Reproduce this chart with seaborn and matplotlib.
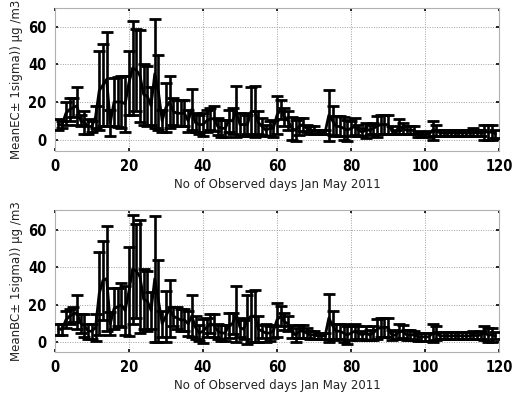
import numpy as np
import pandas as pd
import matplotlib
matplotlib.use("Agg")
import matplotlib.pyplot as plt
import seaborn as sns

days = list(range(1, 120))

ec_mean = [8, 8, 14, 16, 17, 18, 10, 9, 7, 7,
           12, 26, 29, 32, 9, 20, 20, 20, 19, 30,
           38, 37, 34, 24, 23, 18, 35, 25, 10, 17,
           20, 15, 14, 14, 14, 10, 16, 9, 8, 8,
           10, 11, 11, 7, 6, 6, 10, 10, 15, 8,
           8, 8, 15, 15, 9, 7, 5, 6, 6, 13,
           16, 12, 10, 6, 5, 7, 8, 6, 5, 5,
           4, 4, 4, 13, 10, 7, 7, 6, 5, 6,
           7, 5, 4, 5, 5, 6, 7, 8, 8, 8,
           5, 4, 7, 6, 5, 5, 5, 3, 2.5, 3,
           3, 5, 5, 3.5, 3.5, 3.5, 3.5, 3.5, 3.5, 3.5,
           3.5, 3.5, 4, 3.5, 3.5, 4, 4, 4, 3]
ec_sigma = [3, 2, 6, 6, 5, 10, 3, 6, 4, 3,
            6, 21, 22, 25, 7, 13, 13.5, 14, 15, 17,
            25, 22, 24.5, 16, 16, 10, 29, 20, 6, 13,
            14, 7, 7, 7, 7, 6, 11, 5, 5, 6,
            6, 6, 6.6, 4.5, 4.5, 4.5, 6, 7, 13.5, 6,
            6, 5, 13, 13.5, 6, 4.5, 3, 4, 4.5, 10,
            5, 5, 5, 6, 5.5, 4.5, 3.5, 2, 2, 2,
            1, 1, 1, 13.5, 7.6, 5.3, 5.3, 6, 5.5, 4,
            4.5, 3, 2, 4, 2.5, 3, 5.7, 5, 5, 5,
            2, 1, 4, 3, 2, 2, 2, 1.4, 1, 1,
            1.4, 5, 3, 1.5, 1.5, 1.5, 1.5, 1.5, 1.5, 1.5,
            1.5, 1.5, 2, 1.5, 1.5, 4, 4, 4, 2]

bc_mean = [7, 7, 12, 14, 15, 16, 10, 9, 6, 6,
           8, 26, 33, 34, 10, 18, 19, 20, 17, 27,
           39, 38, 35, 23, 22, 17, 34, 22, 10, 14,
           18, 14, 13, 12, 12, 10, 14, 8, 5, 6,
           8, 10, 9, 6, 5, 5, 9, 10, 15, 8,
           7, 12, 14, 14, 7, 6, 5, 5, 6, 12,
           14, 11, 10, 6, 4, 6, 6, 5, 4, 4,
           3.5, 3.5, 3.5, 13, 9, 6, 6, 5, 4, 5,
           6, 5, 4, 5, 4, 5, 7, 8, 8, 8,
           4, 4, 6, 6, 4, 4, 4, 3, 3, 3,
           3, 5, 5, 3.5, 3.5, 3.5, 3.5, 3.5, 3.5, 3.5,
           3.5, 3.5, 4, 3.5, 4, 5, 4, 4, 3.5]
bc_sigma = [3, 3, 4.5, 4, 4, 9, 5, 6, 4, 4,
            7, 22, 21, 28, 6, 11, 10, 11.6, 13, 23.6,
            29, 25, 30, 16, 16, 10, 33.5, 22, 7, 13.5,
            15, 5, 6, 6, 6, 6.5, 11, 6, 4.4, 6.4,
            5, 5, 6, 4, 4.4, 4.4, 6.6, 5.6, 15, 5,
            5, 13, 13.5, 13.7, 7, 3.4, 5, 4, 3.4, 9,
            5.5, 4.6, 4, 3.4, 3.6, 3.4, 3.4, 2.6, 2, 2,
            1.5, 1.5, 1.5, 13, 7.5, 4, 4, 5, 5, 3.5,
            4, 3.5, 2, 3.5, 2.7, 3.5, 5.4, 5, 5, 5,
            2.7, 2, 4, 3.4, 2.7, 2.7, 2, 2, 2, 2,
            2, 4.8, 3.5, 1.8, 1.8, 1.8, 1.8, 1.8, 1.8, 1.8,
            1.8, 1.8, 2, 1.8, 2, 3.5, 3.6, 3.6, 1.8]

xticks = [0, 20, 40, 60, 80, 100, 120]
yticks = [0, 20, 40, 60]
xlabel = "No of Observed days Jan May 2011"
ylabels = ["MeanEC\u00b1 1sigma)) \u00b5g /m3", "MeanBC\u00b1 1sigma)) \u00b5g /m3"]

sns.set_style("white")
plt.rcParams['font.family'] = ['DejaVu Sans']

fig = plt.figure(figsize=(5.12, 3.94), dpi=100)
ax1 = fig.add_axes([0.107, 0.617, 0.868, 0.363])
ax2 = fig.add_axes([0.107, 0.107, 0.868, 0.36])

panels = [(ax1, ec_mean, ec_sigma, ylabels[0], (-6, 70)),
          (ax2, bc_mean, bc_sigma, ylabels[1], (-5, 70.5))]

for ax, mean, sigma, ylab, ylim in panels:
    df = pd.DataFrame({"day": days, "mean": mean, "sigma": sigma})
    ax.errorbar(df["day"], df["mean"], yerr=df["sigma"], fmt="none",
                ecolor="black", elinewidth=1.9, capsize=4.5, capthick=2.0, zorder=3)
    sns.lineplot(data=df, x="day", y="mean", ax=ax, color="black",
                 linewidth=2.0, zorder=4)
    ax.set_xlim(0, 120)
    ax.set_ylim(*ylim)
    ax.set_xticks(xticks)
    ax.set_yticks(yticks)
    ax.grid(True, color="#a0a0a0", linestyle=(0, (1, 1.5)), linewidth=0.7)
    ax.set_axisbelow(True)
    for sp in ax.spines.values():
        sp.set_color("#b0b0b0")
        sp.set_linewidth(0.8)
    ax.tick_params(direction="in", length=2.5, width=1.2, color="black",
                   labelcolor="black",
                   top=True, right=True, bottom=True, left=True, pad=6)
    for lbl in ax.get_xticklabels() + ax.get_yticklabels():
        lbl.set_fontweight("heavy")
        lbl.set_fontsize(10.5)
        lbl.set_fontstretch("condensed")
        lbl.set_color("black")
    ax.set_xlabel(xlabel, fontsize=8.5, labelpad=3, color="#222222")
    ax.set_ylabel(ylab, fontsize=8.5, labelpad=4, color="#222222")

fig.savefig("out.png", dpi=100)
